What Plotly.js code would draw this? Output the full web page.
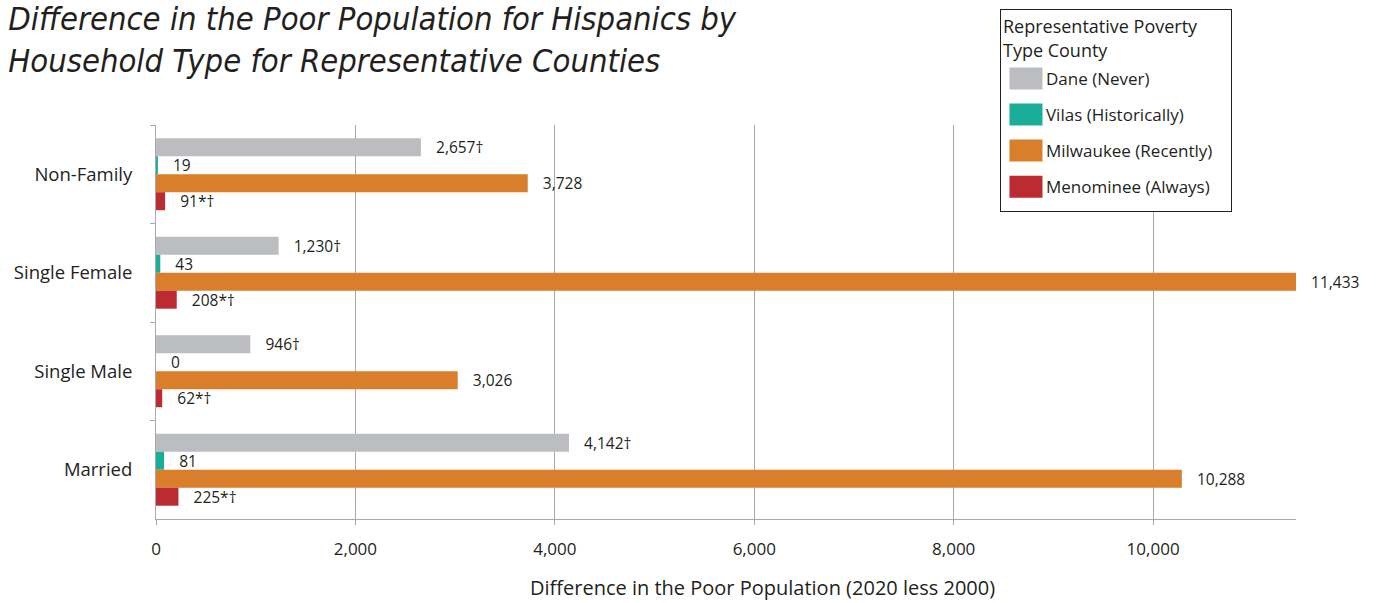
<!DOCTYPE html>
<html>
<head>
<meta charset="utf-8">
<script src="https://cdn.plot.ly/plotly-3.0.1.min.js"></script>
<style>html,body{margin:0;padding:0;background:#fff;}#chart{width:1377px;height:603px;}</style>
</head>
<body>
<div id="chart"></div>
<script>
const categories = ["Non-Family", "Single Female", "Single Male", "Married"];
const seriesNames = ["Dane (Never)", "Vilas (Historically)", "Milwaukee (Recently)", "Menominee (Always)"];
const daneValues = [2657, 1230, 946, 4142];
const vilasValues = [19, 43, 0, 81];
const milwaukeeValues = [3728, 11433, 3026, 10288];
const menomineeValues = [91, 208, 62, 225];
const daneLabels = ["2,657†", "1,230†", "946†", "4,142†"];
const vilasLabels = ["19", "43", "0", "81"];
const milwaukeeLabels = ["3,728", "11,433", "3,026", "10,288"];
const menomineeLabels = ["91*†", "208*†", "62*†", "225*†"];
const xTickValues = [0, 2000, 4000, 6000, 8000, 10000];
const xTickLabels = ["0", "2,000", "4,000", "6,000", "8,000", "10,000"];
const xTitle = "Difference in the Poor Population (2020 less 2000)";

const colors = ["#BCBDC0", "#1AAE98", "#D97E2B", "#BC2A32"];
const valueSets = [daneValues, vilasValues, milwaukeeValues, menomineeValues];
const labelSets = [daneLabels, vilasLabels, milwaukeeLabels, menomineeLabels];
const FONT = "'Open Sans', 'Noto Sans', sans-serif";
const PAD = "\u00A0\u00A0\u00A0";

const traces = seriesNames.map((name, i) => ({
  type: "bar",
  orientation: "h",
  name: name,
  y: categories,
  x: valueSets[i],
  text: labelSets[i].map(t => PAD + t),
  textposition: "outside",
  constraintext: "none",
  textfont: {family: FONT, size: 15.5, color: "#231F20"},
  cliponaxis: false,
  marker: {color: colors[i], line: {width: 0}},
  legendgroup: "g" + i,
  hoverinfo: "x+name"
}));

const layout = {
  width: 1377,
  height: 603,
  margin: {l: 156, r: 81, t: 125, b: 84, autoexpand: false},
  paper_bgcolor: "#ffffff",
  plot_bgcolor: "#ffffff",
  font: {family: FONT, color: "#231F20"},
  barmode: "group",
  bargap: 0.27,
  bargroupgap: 0,
  title: {
    text: "Difference in the Poor Population for Hispanics by<br>Household Type for Representative Counties",
    font: {family: "'DejaVu Sans Condensed', 'Liberation Sans Narrow', sans-serif", size: 32.5, style: "italic", color: "#231F20"},
    xref: "container", yref: "container",
    x: 0.006, xanchor: "left",
    y: 0.951, yanchor: "middle"
  },
  xaxis: {
    range: [0, 11433],
    tickvals: xTickValues,
    ticktext: xTickLabels,
    showgrid: true,
    gridcolor: "#A7A9AC",
    gridwidth: 1,
    zeroline: false,
    showline: true,
    linecolor: "#A7A9AC",
    ticks: "outside",
    ticklen: 5,
    tickcolor: "#A7A9AC",
    tickfont: {family: FONT, size: 17, color: "#231F20"},
    ticklabelstandoff: 10,
    automargin: false,
    fixedrange: true
  },
  yaxis: {
    type: "category",
    categoryorder: "array",
    categoryarray: categories,
    autorange: "reversed",
    showgrid: false,
    zeroline: false,
    showline: true,
    linecolor: "#A7A9AC",
    ticks: "outside",
    tickson: "boundaries",
    ticklen: 5,
    tickcolor: "#A7A9AC",
    tickfont: {family: FONT, size: 18.5, color: "#231F20"},
    ticklabelstandoff: 19,
    automargin: false,
    fixedrange: true
  },
  annotations: [{
    text: xTitle,
    xref: "paper", yref: "paper",
    x: 0.5316, y: -0.175,
    xanchor: "center", yanchor: "middle",
    showarrow: false,
    font: {family: FONT, size: 20, color: "#231F20"}
  }],
  showlegend: true,
  legend: {
    xref: "container", yref: "container",
    x: 0.7262, xanchor: "left",
    y: 0.985, yanchor: "top",
    bordercolor: "#231F20",
    borderwidth: 1,
    bgcolor: "#ffffff",
    traceorder: "grouped",
    tracegroupgap: 11,
    itemwidth: 35,
    font: {family: FONT, size: 17, color: "#231F20"},
    title: {text: "Representative Poverty<br>Type County", font: {family: FONT, size: 18, color: "#231F20"}}
  }
};

Plotly.newPlot("chart", traces, layout, {displayModeBar: false, staticPlot: true}).then(gd => {
  // enlarge legend swatches to match the reference's wide rectangles
  gd.querySelectorAll(".legend .legendpoints path").forEach(p => {
    p.setAttribute("d", "M-14,-11H19V11H-14Z");
  });
  // nudge legend entries slightly lower, as in the reference
  gd.querySelectorAll(".legend g.traces").forEach(g => {
    const t = g.getAttribute("transform") || "";
    const m = t.match(/translate\(\s*([-\d.e]+)[ ,]+([-\d.e]+)\s*\)/);
    if (m) g.setAttribute("transform", "translate(" + m[1] + "," + (parseFloat(m[2]) + 4) + ")");
  });
  const bg = gd.querySelector(".legend rect.bg");
  if (bg) { bg.setAttribute("width", 231); bg.setAttribute("height", 202); }
});
</script>
</body>
</html>
